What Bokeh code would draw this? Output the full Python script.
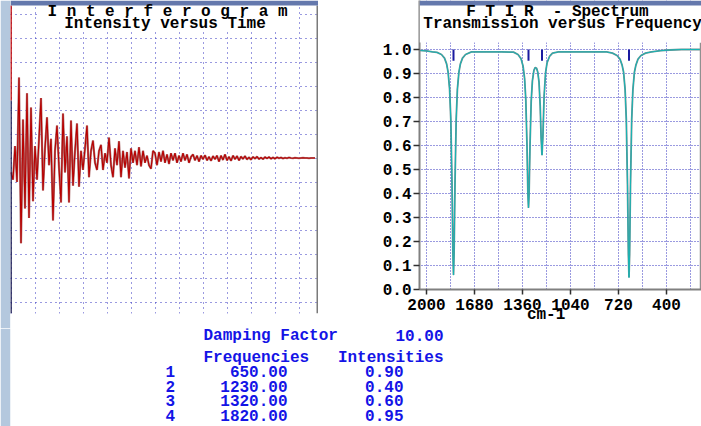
import math
from bokeh.plotting import figure
from bokeh.models import Range1d, FixedTicker, Label, BoxAnnotation, PrintfTickFormatter
from bokeh.layouts import column, row
from bokeh.core.properties import value
from bokeh.embed import file_html
from bokeh.resources import INLINE

FONT = "Liberation Mono"
BLUE_TXT = "#1414e6"
GRID_BLUE = "#3434c0"
SIDE_BLUE = "#b4c8de"
TOP_BLUE = "#6478ac"

# ---------------- data ----------------
damping_factor = 10.00
frequencies = [650.0, 1230.0, 1320.0, 1820.0]
intensities = [0.90, 0.40, 0.60, 0.95]

# interferogram (intensity vs sample)
ifg_intensity = [
    -0.6, -0.9, 0.5, -1.0, 3.35, -3.55, 1.6, -2.1, 2.7, -2.5,
    2.1, -1.8, 0.5, -0.9, 0.8, 2.5, -1.35, 0.4, 1.7, -0.3,
    0.8, -2.6, 0.3, 1.35, -0.4, -1.85, 1.85, -0.6, 0.9, -1.85,
    1.56, -1.15, 0.3, 1.44, -1.2, 0.3, -0.5, 0.4, 1.35, -0.8,
    0.3, 0.73, -0.2, -0.5, 0.3, 0.55, -0.5, 0.2, -0.2, 0.85,
    -0.3, -0.8, 0.4, -0.3, 0.7, -0.8, 0.3, -0.4, 0.25, -0.85,
    0.4, -0.2, 0.3, -0.3, 0.45, -0.35, 0.3, -0.2, 0.1, -0.3,
    -0.45, 0.3, 0.2, -0.3, 0.25, -0.15, 0.3, -0.2, 0.15, -0.25,
    0.2, -0.1, 0.2, -0.2, 0.1, -0.15, 0.2, -0.1, 0.15, -0.2,
    0.05, 0.15, -0.1, 0.1, -0.15, 0.1, -0.05, 0.12, -0.1, 0.05,
    -0.12, 0.08, -0.05, 0.1, -0.15, 0.1, -0.08, 0.15, -0.1, 0.05,
    -0.12, 0.1, -0.05, 0.08, -0.1, 0.06, -0.04, 0.08, -0.06, 0.03,
    -0.07, 0.05, -0.03, 0.06, -0.05, 0.02, -0.05, 0.04, -0.02, 0.04,
    -0.03, 0.02, -0.03, 0.03, -0.01, 0.02, -0.02, 0.01, -0.01, 0.02,
    0.0, -0.01, 0.01, 0.0, -0.01, 0.0, 0.01, 0.0, 0.0, -0.01,
    0.0, 0.0, 0.0,
]
ifg_sample = list(range(len(ifg_intensity)))

# FTIR spectrum
spec_wavenumber = [
    2046, 2000, 1960, 1930, 1900, 1880, 1866, 1856, 1846, 1838, 1830, 1824, 1820,
    1816, 1810, 1802, 1794, 1784, 1774, 1760, 1740, 1700, 1600, 1500, 1420, 1390,
    1370, 1356, 1346, 1338, 1330, 1324, 1320, 1316, 1310, 1302, 1294, 1284, 1275,
    1266, 1258, 1250, 1242, 1236, 1230, 1224, 1216, 1206, 1196, 1180, 1160, 1120,
    1000, 900, 800, 760, 730, 710, 696, 686, 676, 668, 660, 654, 650, 646, 640,
    632, 624, 614, 604, 590, 570, 540, 500, 440, 380, 300, 166,
]
spec_transmission = [
    0.996, 0.994, 0.99, 0.988, 0.979, 0.964, 0.94, 0.906, 0.835, 0.71, 0.444, 0.154, 0.06,
    0.154, 0.444, 0.71, 0.835, 0.906, 0.94, 0.964, 0.979, 0.99, 0.99, 0.99, 0.989, 0.979,
    0.962, 0.93, 0.879, 0.791, 0.60, 0.40, 0.34, 0.40, 0.60, 0.785, 0.869, 0.913, 0.925,
    0.922, 0.905, 0.865, 0.765, 0.635, 0.56, 0.638, 0.805, 0.905, 0.945, 0.971, 0.985, 0.99,
    0.99, 0.99, 0.99, 0.985, 0.975, 0.96, 0.935, 0.905, 0.833, 0.708, 0.438, 0.145, 0.05, 0.145, 0.438,
    0.708, 0.833, 0.905, 0.935, 0.96, 0.975, 0.985, 0.99, 0.995, 0.998, 1.0, 1.0,
]

spec_x_ticks = [2000, 1680, 1360, 1040, 720, 400]
spec_x_grid = [2000, 1840, 1680, 1520, 1360, 1200, 1040, 880, 720, 560, 400, 240]
spec_y_ticks = [0.0, 0.1, 0.2, 0.3, 0.4, 0.5, 0.6, 0.7, 0.8, 0.9, 1.0]
spec_y_grid = [0.1, 0.2, 0.3, 0.4, 0.5, 0.6, 0.7, 0.8, 0.9, 1.0]

ifg_x_grid = [0, 12, 24, 36, 48, 60, 72, 84, 96, 108, 120, 132, 144]
ifg_y_grid = [-6, -5, -4, -3, -2, -1, 0, 1, 2, 3, 4, 5, 6]

TOP_H = 328

# ---------------- interferogram panel ----------------
pA = figure(width=318, height=TOP_H, output_backend="svg", toolbar_location=None, title=None,
            x_range=Range1d(-0.25, 153.75), y_range=Range1d(-(TOP_H - 157.5) / 24, 6.5625),
            x_axis_location=None, y_axis_location=None,
            min_border_left=10, min_border_right=0, min_border_top=0, min_border_bottom=0,
            border_fill_color=SIDE_BLUE, background_fill_color="white",
            outline_line_color=None, frame_align=False)
pA.xgrid.ticker = FixedTicker(ticks=ifg_x_grid)
pA.ygrid.ticker = FixedTicker(ticks=ifg_y_grid)
pA.grid.grid_line_color = GRID_BLUE
pA.grid.grid_line_dash = "1 4"
pA.grid.grid_line_width = 1

pA.line(ifg_sample, ifg_intensity, line_color="#b07272", line_width=2.2)
pA.line(ifg_sample, ifg_intensity, line_color="#b80000", line_width=1.1)

# title box, top band and frame edges
pA.add_layout(BoxAnnotation(left=13.25, right=143.25, bottom=5.27, fill_color="white",
                            fill_alpha=1.0, line_alpha=0))
pA.add_layout(BoxAnnotation(top=-6.479, fill_color="white", fill_alpha=1.0, line_alpha=0))
pA.add_layout(BoxAnnotation(bottom=6.354, fill_color=TOP_BLUE, fill_alpha=1.0, line_alpha=0))
pA.segment(x0=[0, 0], y0=[6.354, 2.4], x1=[0, 0], y1=[2.4, -6.479],
           line_color=["#c00000", "#1a1a50"], line_width=1.6)
pA.segment(x0=[153.25], y0=[6.354], x1=[153.25], y1=[-6.479],
           line_color="#7a7a7a", line_width=2)

for txt, xx, yy in [("I n t e r f e r o g r a m", 78.25, 6.10),
                    ("Intensity versus Time", 77.0, 5.57)]:
    pA.add_layout(Label(x=xx, y=yy, text=txt, text_font=FONT, text_font_size="16px",
                        text_font_style="bold", text_color="black",
                        text_align="center", text_baseline="middle"))

# ---------------- spectrum panel ----------------
pB = figure(width=383, height=TOP_H, output_backend="svg", toolbar_location=None, title=None,
            x_range=Range1d(2046.67, 166.67), y_range=Range1d(0.0, 1.2042),
            min_border_left=101, min_border_right=0, min_border_top=0,
            min_border_bottom=TOP_H - 289,
            border_fill_color="white", background_fill_color="white",
            outline_line_color=None, frame_align=False)
pB.xgrid.ticker = FixedTicker(ticks=spec_x_grid)
pB.ygrid.ticker = FixedTicker(ticks=spec_y_grid)
pB.grid.grid_line_color = GRID_BLUE
pB.grid.grid_line_dash = "1 2"
pB.grid.grid_line_width = 1

for ax in (pB.xaxis, pB.yaxis):
    ax.axis_line_color = "#808080"
    ax.axis_line_width = 2
    ax.major_tick_line_color = "#303030"
    ax.major_tick_line_width = 1.5
    ax.major_tick_in = 0
    ax.minor_tick_line_color = None
    ax.major_label_text_font = FONT
    ax.major_label_text_font_size = "16px"
    ax.major_label_text_font_style = "bold"
    ax.major_label_text_color = "black"
pB.xaxis.ticker = FixedTicker(ticks=spec_x_ticks)
pB.xaxis.formatter = PrintfTickFormatter(format="%d")
pB.xaxis.major_tick_out = 5
pB.xaxis.major_label_standoff = 4
pB.xaxis.axis_label = "cm-1\u00a0\u00a0\u00a0"
pB.xaxis.axis_label_standoff = -7
pB.xaxis.axis_label_text_font = FONT
pB.xaxis.axis_label_text_font_size = "16px"
pB.xaxis.axis_label_text_font_style = "bold"
pB.xaxis.axis_label_text_color = "black"
pB.yaxis.ticker = FixedTicker(ticks=spec_y_ticks)
pB.yaxis.formatter = PrintfTickFormatter(format="%.1f")
pB.yaxis.major_tick_out = 6
pB.yaxis.major_label_standoff = 2

pB.line(spec_wavenumber, spec_transmission, line_color="#6f9090", line_width=1.8)
pB.line(spec_wavenumber, spec_transmission, line_color="#16b4b4", line_width=1.0)
pB.segment(x0=frequencies, y0=[1.0] * len(frequencies), x1=frequencies,
           y1=[0.953] * len(frequencies), line_color="#1a1aa0", line_width=2)

# mask above the plotting area, top band, right edge
pB.add_layout(BoxAnnotation(bottom=1.029, fill_color="white", fill_alpha=1.0, line_alpha=0))
pB.add_layout(BoxAnnotation(bottom=1.1833, fill_color=TOP_BLUE, fill_alpha=1.0, line_alpha=0))
pB.segment(x0=[173.3], y0=[0.0], x1=[173.3], y1=[1.029], line_color="#909090", line_width=1.5)

for txt, xx, yy in [("F T I R\u00a0\u00a0- Spectrum", 1126.7, 1.158),
                    ("Transmission versus Frequency", 1093.3, 1.105)]:
    pB.add_layout(Label(x=xx, y=yy, text=txt, text_font=FONT, text_font_size="16px",
                        text_font_style="bold", text_color="black",
                        text_align="center", text_baseline="middle"))
pB.add_layout(Label(x=2366.7, y=0.571, text="Transmission", angle=math.pi / 2,
                    text_font=FONT, text_font_size="16px", text_font_style="bold",
                    text_color="black", text_align="center", text_baseline="middle"))

# ---------------- parameter table ----------------
pC = figure(width=701, height=426 - TOP_H, output_backend="svg", toolbar_location=None,
            title=None, x_range=Range1d(10, 701), y_range=Range1d(426, TOP_H),
            x_axis_location=None, y_axis_location=None,
            min_border_left=10, min_border_right=0, min_border_top=0, min_border_bottom=0,
            border_fill_color=SIDE_BLUE, background_fill_color="white",
            outline_line_color=None, frame_align=False)
pC.grid.visible = False

row_y = [371, 386, 400, 415]
common = dict(text_font=value(FONT), text_font_size="16px", text_font_style="bold",
              text_color=BLUE_TXT, text_baseline="middle")
pC.text(x=[203], y=[335], text=["Damping Factor"], text_align="left", **common)
pC.text(x=[443], y=[335], text=[f"{damping_factor:.2f}"], text_align="right", **common)
pC.text(x=[203], y=[357], text=["Frequencies"], text_align="left", **common)
pC.text(x=[443], y=[357], text=["Intensities"], text_align="right", **common)
pC.text(x=[165] * len(frequencies), y=row_y,
        text=[str(i + 1) for i in range(len(frequencies))], text_align="left", **common)
pC.text(x=[287] * len(frequencies), y=row_y,
        text=[f"{f:.2f}" for f in frequencies], text_align="right", **common)
pC.text(x=[403] * len(intensities), y=row_y,
        text=[f"{v:.2f}" for v in intensities], text_align="right", **common)

layout = column(row(pA, pB), pC)
open("out.html", "w").write(file_html(layout, INLINE))
